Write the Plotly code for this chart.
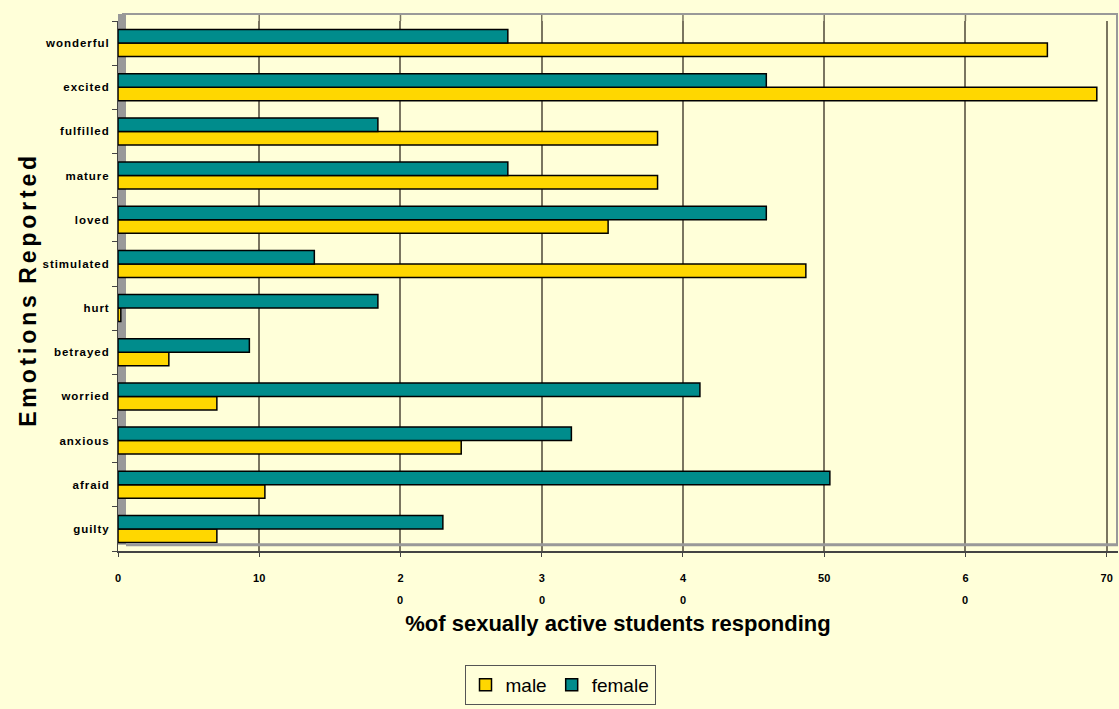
import plotly.graph_objects as go

categories = ["wonderful", "excited", "fulfilled", "mature", "loved", "stimulated",
              "hurt", "betrayed", "worried", "anxious", "afraid", "guilty"]
male = [65.8, 69.3, 38.2, 38.2, 34.7, 48.7, 0.2, 3.6, 7.0, 24.3, 10.4, 7.0]
female = [27.6, 45.9, 18.4, 27.6, 45.9, 13.9, 18.4, 9.3, 41.2, 32.1, 50.4, 23.0]

tick_vals = [0, 10, 20, 30, 40, 50, 60, 70]
tick_text = ["0", "10", "2", "3", "4", "50", "6", "70"]
wrapped_vals = [20, 30, 40, 60]
wrapped_text = ["0", "0", "0", "0"]

BG = "#FFFFD9"
YELLOW = "#FFD700"
TEAL = "#008C8C"
GRID = "#7A7560"
FONT = "Liberation Sans"

ycats = ["&#8202;".join(list(c)) for c in categories]

fig = go.Figure()
fig.add_trace(go.Bar(y=ycats, x=male, orientation="h", name="male",
                     marker=dict(color=YELLOW, line=dict(color="black", width=1.5))))
fig.add_trace(go.Bar(y=ycats, x=female, orientation="h", name="female",
                     marker=dict(color=TEAL, line=dict(color="black", width=1.5))))

ytitle = "&#8202;&#8202;".join(list("Emotions")) + "&#8194;" + "&#8202;&#8202;".join(list("Reported"))

top_ext = 7 / 530.0
shapes = [
    dict(type="rect", xref="paper", yref="paper", x0=0, x1=0.008, y0=0.012, y1=1 + top_ext,
         fillcolor="#999999", line=dict(width=0), layer="below"),
    dict(type="line", xref="paper", yref="paper", x0=0.004, x1=1, y0=1 + top_ext, y1=1 + top_ext,
         line=dict(color="#999999", width=2)),
    dict(type="line", xref="paper", yref="paper", x0=0.999, x1=0.999, y0=0.012, y1=1 + top_ext,
         line=dict(color="#999999", width=2)),
    dict(type="line", xref="paper", yref="paper", x0=0.008, x1=1, y0=0.012, y1=0.012,
         line=dict(color="#999999", width=3)),
]
for v in tick_vals[1:-1]:
    shapes.append(dict(type="line", xref="x", yref="paper", x0=v, x1=v, y0=1, y1=1 + top_ext,
                       line=dict(color=GRID, width=1.5), layer="below"))

annotations = [
    dict(x=v, y=0, xref="x", yref="paper", text="<b>%s</b>" % t, showarrow=False,
         yanchor="middle", yshift=-49, font=dict(family=FONT, size=11, color="black"))
    for v, t in zip(wrapped_vals, wrapped_text)
]
annotations.append(dict(x=-0.09, y=0.489, xref="paper", yref="paper", textangle=-90,
                        text="<b>" + ytitle + "</b>", showarrow=False,
                        xanchor="center", yanchor="middle",
                        font=dict(family=FONT, size=23, color="black")))

fig.update_layout(
    width=1119, height=709,
    paper_bgcolor=BG, plot_bgcolor=BG,
    margin=dict(l=118, r=1, t=21, b=158),
    barmode="group", bargap=0.39, bargroupgap=0.0,
    font=dict(family=FONT, color="black"),
    legend=dict(orientation="h", x=0.442, xanchor="center", y=-0.215, yanchor="top",
                bgcolor=BG, bordercolor="#555", borderwidth=1,
                font=dict(family=FONT, size=19), traceorder="normal",
                itemwidth=30, tracegroupgap=0),
    xaxis=dict(range=[0, 70.8], tickvals=tick_vals, ticktext=tick_text,
               tickfont=dict(family=FONT, size=11, color="black", weight="bold"),
               ticklabelstandoff=12,
               showgrid=True, gridcolor=GRID, gridwidth=1.5,
               showline=True, linecolor="#444", linewidth=2,
               ticks="outside", ticklen=4, tickcolor="#444",
               zeroline=False, fixedrange=True,
               title=dict(text="<b>%of sexually active students responding</b>",
                          font=dict(family=FONT, size=22), standoff=32)),
    yaxis=dict(categoryorder="array", categoryarray=ycats[::-1],
               tickfont=dict(family=FONT, size=11.5, color="black", weight="bold"),
               ticks="outside", ticklen=5, tickcolor="#444", tickson="boundaries",
               ticklabelstandoff=6,
               showline=True, linecolor="#444", linewidth=1,
               showgrid=False, zeroline=False),
    shapes=shapes,
    annotations=annotations,
)

fig.write_html("out.html")
